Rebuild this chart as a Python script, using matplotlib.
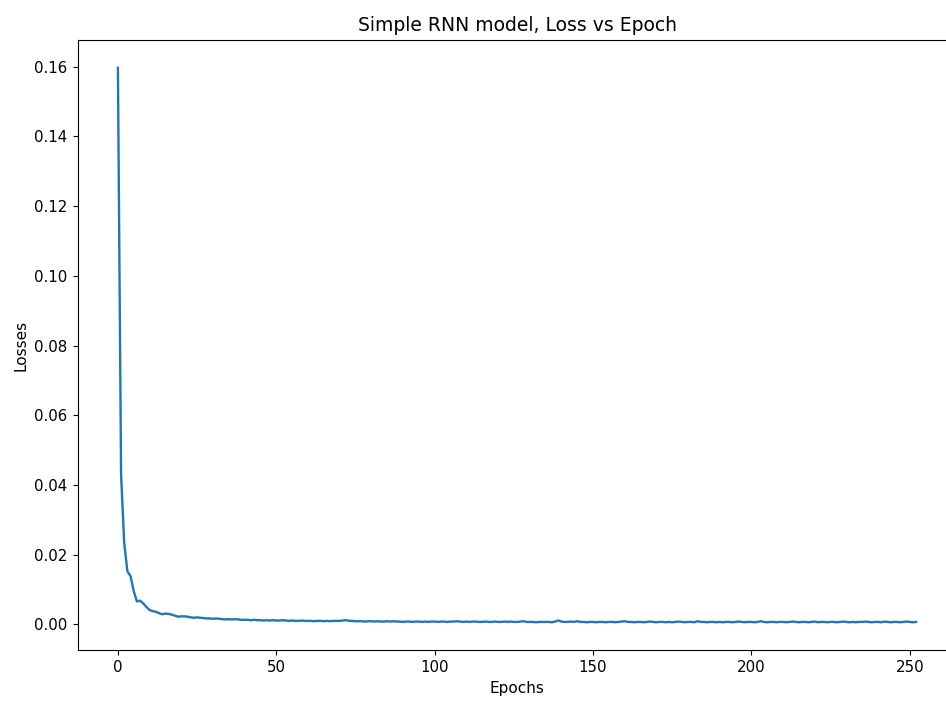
import matplotlib
matplotlib.use("Agg")
import matplotlib.pyplot as plt

# per-epoch training loss
losses = [
    0.1597, 0.0430, 0.0232, 0.0152, 0.0138, 0.0095, 0.0066, 0.0068, 0.0060, 0.0050,
    0.0041, 0.0038, 0.0036, 0.0032, 0.0029, 0.0031, 0.0030, 0.0028, 0.0025, 0.0022,
    0.0023, 0.0023, 0.0022, 0.0020, 0.0019, 0.0020, 0.0019, 0.0018, 0.0017, 0.0017,
    0.0016, 0.0017, 0.0016, 0.0015, 0.0014, 0.0015, 0.0014, 0.0015, 0.0014, 0.0013,
    0.0013, 0.0013, 0.0012, 0.0013, 0.0012, 0.0012, 0.0011, 0.0012, 0.0011, 0.0012,
    0.0011, 0.0011, 0.0012, 0.0011, 0.0010, 0.0011, 0.0010, 0.0010, 0.0011, 0.0010,
    0.0010, 0.0010, 0.0009, 0.0010, 0.0010, 0.0009, 0.0010, 0.0009, 0.0010, 0.0010,
    0.0010, 0.0011, 0.0012, 0.0010, 0.0010, 0.0009, 0.0009, 0.0009, 0.0008, 0.0009,
    0.0009, 0.0008, 0.0009, 0.0008, 0.0008, 0.0009, 0.0008, 0.0009, 0.0008, 0.0008,
    0.0007, 0.0008, 0.0008, 0.0007, 0.0008, 0.0008, 0.0007, 0.0008, 0.0007, 0.0008,
    0.0008, 0.0007, 0.0008, 0.0008, 0.0007, 0.0008, 0.0008, 0.0009, 0.0008, 0.0007,
    0.0008, 0.0007, 0.0008, 0.0008, 0.0007, 0.0007, 0.0008, 0.0007, 0.0007, 0.0008,
    0.0007, 0.0007, 0.0008, 0.0007, 0.0008, 0.0007, 0.0007, 0.0008, 0.0009, 0.0007,
    0.0007, 0.0007, 0.0006, 0.0007, 0.0007, 0.0007, 0.0007, 0.0006, 0.0008, 0.0011,
    0.0008, 0.0007, 0.0007, 0.0008, 0.0007, 0.0009, 0.0007, 0.0007, 0.0006, 0.0007,
    0.0007, 0.0006, 0.0007, 0.0007, 0.0006, 0.0007, 0.0007, 0.0006, 0.0007, 0.0008,
    0.0009, 0.0007, 0.0007, 0.0006, 0.0007, 0.0007, 0.0006, 0.0007, 0.0008, 0.0007,
    0.0006, 0.0007, 0.0007, 0.0006, 0.0007, 0.0006, 0.0007, 0.0008, 0.0007, 0.0006,
    0.0007, 0.0007, 0.0006, 0.0009, 0.0007, 0.0007, 0.0006, 0.0007, 0.0007, 0.0006,
    0.0007, 0.0006, 0.0007, 0.0007, 0.0006, 0.0007, 0.0008, 0.0007, 0.0006, 0.0007,
    0.0007, 0.0006, 0.0007, 0.0009, 0.0007, 0.0006, 0.0007, 0.0007, 0.0006, 0.0007,
    0.0007, 0.0006, 0.0007, 0.0008, 0.0007, 0.0006, 0.0007, 0.0007, 0.0006, 0.0007,
    0.0008, 0.0006, 0.0007, 0.0007, 0.0006, 0.0007, 0.0007, 0.0006, 0.0007, 0.0008,
    0.0007, 0.0006, 0.0007, 0.0006, 0.0007, 0.0007, 0.0008, 0.0007, 0.0006, 0.0007,
    0.0007, 0.0006, 0.0008, 0.0007, 0.0006, 0.0007, 0.0007, 0.0006, 0.0007, 0.0008,
    0.0007, 0.0006, 0.0007,
]
epochs = list(range(len(losses)))

fig = plt.figure(figsize=(9.46, 7.02), dpi=100)
# reference is cropped on the right, so the axes run past the figure edge
ax = fig.add_axes([78 / 946, 1 - 650 / 702, (956 - 78) / 946, (650 - 40) / 702])
ax.plot(epochs, losses, lw=1.7)
ax.set_title("Simple RNN model, Loss vs Epoch", fontsize=13.5, pad=6.5)
ax.set_xlabel("Epochs", fontsize=11)
ax.set_ylabel("Losses", fontsize=11)
ax.tick_params(labelsize=10.8, length=3.9)
fig.savefig("out.png", dpi=100)
